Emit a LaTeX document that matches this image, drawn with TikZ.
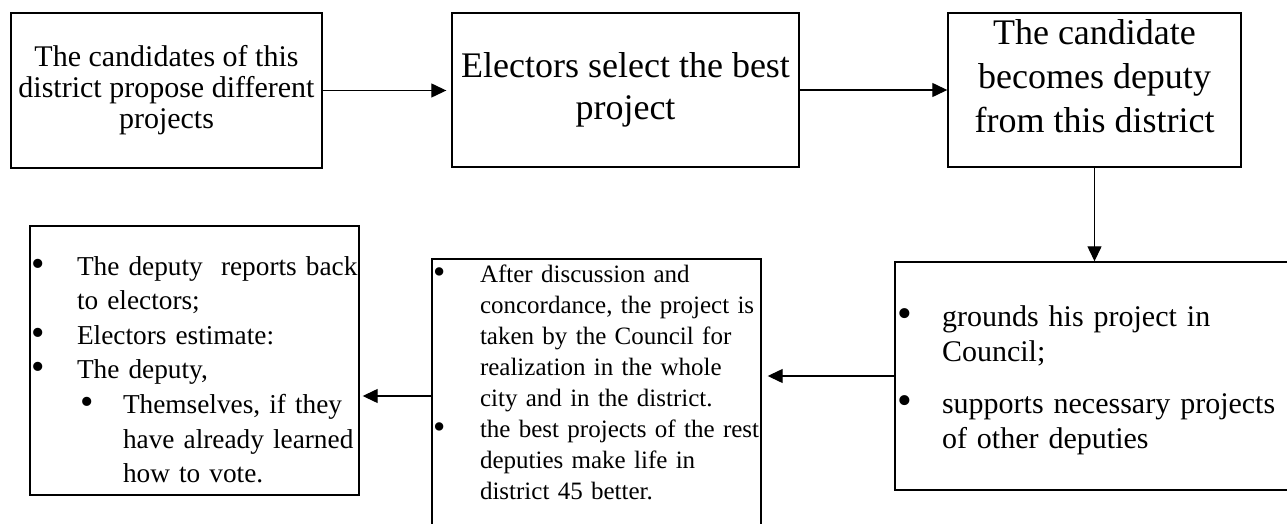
\documentclass[tikz,border=0pt]{standalone}
\usepackage{fontspec}
\setmainfont{Liberation Serif}
\usetikzlibrary{arrows.meta}
\newcommand\itm[2]{\makebox[#1][l]{\raisebox{-1pt}{\scalebox{1.4}{\textbullet}}}\mbox{#2}}
\newcommand\cnt[2]{\hspace*{#1}\mbox{#2}}
\newcommand\fs[2]{\fontsize{#1}{#2}\selectfont}
\begin{document}
\begin{tikzpicture}[x=1pt,y=-1pt,
 box/.style={draw,line width=1.4pt,inner sep=0pt},
 arr/.style={line width=1.3pt,-{Triangle[length=15pt,width=14pt]}},
 ]
 \useasboundingbox (0,0) rectangle (1287,524);
 \path
 (166.5,90.5) node[box,minimum width=311pt,minimum height=155pt,align=center,font=\fs{30}{31}] (b1)
 {The candidates of this\\district propose different\\projects} % <<< row 1
 (625.5,90) node[box,minimum width=347pt,minimum height=154pt,align=center,font=\fs{36}{42}] (b2)
 {Electors select the best\\project}
 (1094.5,90) node[box,minimum width=293pt,minimum height=154pt,align=center,font=\fs{36}{44}] (b3)
 {The candidate\\becomes deputy\\from this district\rule[-28pt]{0pt}{0pt}}
 (1097.5,376) node[box,minimum width=405pt,minimum height=228pt,text width=401pt,align=left,font=\fs{30}{35}] (b4)
 {\rule{0pt}{30pt}\itm{45pt}{grounds his project in}\\
 \cnt{45pt}{Council;}\\[17pt]
 \itm{45pt}{supports necessary projects}\\
 \cnt{45pt}{of other deputies}} % <<< row 2
 (596.5,396) node[box,minimum width=329pt,minimum height=274pt,text width=327pt,align=left,font=\fs{25}{31}] (b5)
 {\itm{47pt}{After discussion and}\\
 \cnt{47pt}{concordance, the project is}\\
 \cnt{47pt}{taken by the Council for}\\
 \cnt{47pt}{realization in the whole}\\
 \cnt{47pt}{city and in the district.}\\
 \itm{47pt}{the best projects of the rest}\\
 \cnt{47pt}{deputies make life in}\\
 \cnt{47pt}{district 45 better.}\rule[-27pt]{0pt}{0pt}}
 (194.5,360.5) node[box,minimum width=329pt,minimum height=269pt,text width=327pt,align=left,font=\fs{27.3}{34.6}] (b6)
 {\rule{0pt}{37pt}\itm{46pt}{The deputy\ \ reports back}\\
 \cnt{46pt}{to electors;}\\
 \itm{46pt}{Electors estimate:}\\
 \itm{46pt}{The deputy,}\\
 \hspace*{49pt}\itm{43pt}{Themselves, if they}\\
 \cnt{92pt}{have already learned}\\
 \cnt{92pt}{how to vote.}};
 \draw[arr,shorten >=5pt] (b1.east) -- (b1.east -| b2.west);
 \draw[arr] (b2.east) -- (b2.east -| b3.west);
 \draw[arr] (b3.south) -- (b3.south |- b4.north);
 \draw[arr,shorten >=6pt] (b4.west) -- (b4.west -| b5.east);
 \draw[arr,shorten >=3pt] (b5.west) -- (b5.west -| b6.east);
\end{tikzpicture}
\end{document}
